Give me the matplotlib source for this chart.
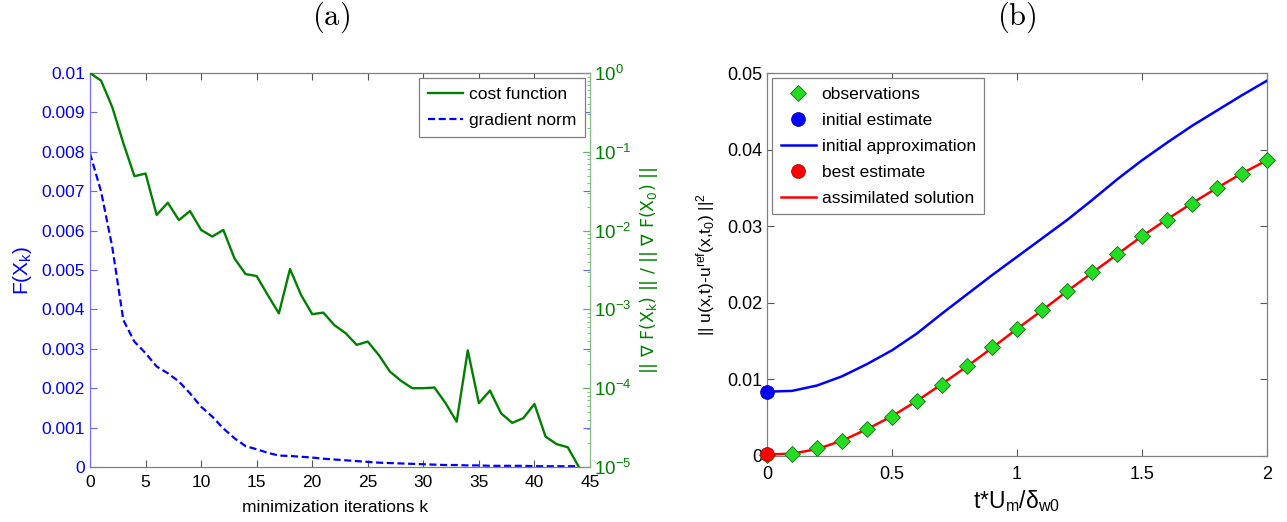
import matplotlib
matplotlib.use('Agg')
import matplotlib.pyplot as plt
from matplotlib.ticker import FixedLocator, FixedFormatter, LogLocator, NullFormatter
from matplotlib.lines import Line2D

plt.rcParams['font.family'] = ['Liberation Sans', 'DejaVu Sans']
plt.rcParams['mathtext.fontset'] = 'custom'
plt.rcParams['mathtext.rm'] = 'Liberation Sans'
plt.rcParams['mathtext.it'] = 'Liberation Sans:italic'
plt.rcParams['mathtext.default'] = 'rm'

# ---------------- data: panel (a) ----------------
iterations = list(range(45))
cost_function = [1.0, 0.80, 0.37, 0.129, 0.049, 0.053, 0.0158, 0.0226, 0.0136, 0.0177,
                 0.0102, 0.0084, 0.0102, 0.00445, 0.00281, 0.00265, 0.00152, 0.00089, 0.00326, 0.00152,
                 0.00087, 0.00091, 0.00063, 0.00050, 0.000355, 0.00039, 0.000263, 0.000162, 0.000124, 0.00010,
                 0.00010, 0.000102, 0.0000646, 0.0000376, 0.000302, 0.0000646, 0.0000933, 0.0000479, 0.0000363, 0.0000417,
                 0.0000631, 0.0000243, 0.0000195, 0.0000178, 0.00001]
gradient_norm = [0.00796, 0.00699, 0.00559, 0.00373, 0.00318, 0.00289, 0.00255, 0.00238, 0.00217, 0.00187,
                 0.00153, 0.00128, 0.00098, 0.00073, 0.00053, 0.00045, 0.00036, 0.00029, 0.00028, 0.00026,
                 0.00024, 0.00021, 0.00019, 0.00017, 0.00015, 0.00013, 0.00011, 0.00010, 0.00009, 0.00008,
                 0.00007, 0.00006, 0.00005, 0.00005, 0.00004, 0.00004, 0.00003, 0.00003, 0.00003, 0.00003,
                 0.00002, 0.00002, 0.00002, 0.00002, 0.00002]
a_xticks = [0, 5, 10, 15, 20, 25, 30, 35, 40, 45]
a_yticks = [0, 0.001, 0.002, 0.003, 0.004, 0.005, 0.006, 0.007, 0.008, 0.009, 0.01]
a_yticklabels = ['0', '0.001', '0.002', '0.003', '0.004', '0.005', '0.006', '0.007', '0.008', '0.009', '0.01']

# ---------------- data: panel (b) ----------------
t_grid = [0.0, 0.1, 0.2, 0.3, 0.4, 0.5, 0.6, 0.7, 0.8, 0.9, 1.0,
          1.1, 1.2, 1.3, 1.4, 1.5, 1.6, 1.7, 1.8, 1.9, 2.0]
initial_approximation = [0.0084, 0.0085, 0.0092, 0.0104, 0.0120, 0.0138, 0.0160, 0.0186, 0.0211, 0.0236, 0.0260,
                         0.0284, 0.0308, 0.0334, 0.0361, 0.0386, 0.0409, 0.0431, 0.0451, 0.0471, 0.0490]
observations = [0.0001, 0.0003, 0.0010, 0.0020, 0.0035, 0.0051, 0.0072, 0.0093, 0.0117, 0.0142, 0.0166,
                0.0190, 0.0215, 0.0240, 0.0264, 0.0287, 0.0308, 0.0329, 0.0350, 0.0368, 0.0386]
assimilated_solution = [0.0002, 0.0003, 0.0009, 0.0020, 0.0035, 0.0052, 0.0072, 0.0094, 0.0117, 0.0141, 0.0166,
                        0.0190, 0.0215, 0.0239, 0.0263, 0.0287, 0.0309, 0.0330, 0.0350, 0.0369, 0.0386]
initial_estimate = (0.0, 0.0084)
best_estimate = (0.0, 0.0002)
b_xticks = [0, 0.5, 1, 1.5, 2]
b_xticklabels = ['0', '0.5', '1', '1.5', '2']
b_yticks = [0, 0.01, 0.02, 0.03, 0.04, 0.05]
b_yticklabels = ['0', '0.01', '0.02', '0.03', '0.04', '0.05']

W, H = 1287, 522
fig = plt.figure(figsize=(W / 100, H / 100), dpi=100)

def px_axes(x0, y_top, x1, y_bot):
    return fig.add_axes([x0 / W, (H - y_bot) / H, (x1 - x0) / W, (y_bot - y_top) / H])

FS = 12.5
GRAY = '#808080'
BLUE = '#0000ff'
GREEN = '#008000'
LEG_KW = dict(fontsize=FS, fancybox=False, framealpha=1, edgecolor=GRAY, borderaxespad=0.3,
              handlelength=2.0, handletextpad=0.35, labelspacing=0.62, borderpad=0.5)

# ================= panel (a) =================
ax1 = px_axes(90, 73, 590, 467)
ax1.plot(iterations, gradient_norm, color=BLUE, lw=1.6, ls=(0, (3.2, 1.6)))
ax1.set_xlim(0, 45)
ax1.set_ylim(0, 0.01)
ax1.xaxis.set_major_locator(FixedLocator(a_xticks))
ax1.yaxis.set_major_locator(FixedLocator(a_yticks))
ax1.yaxis.set_major_formatter(FixedFormatter(a_yticklabels))
ax1.set_xlabel('minimization iterations k', fontsize=FS)
ax1.xaxis.set_label_coords(0.49, -0.085)
ax1.set_ylabel('F(X$_k$)', color=BLUE, fontsize=FS + 2.5)
ax1.yaxis.set_label_coords(-0.112, 0.5)

ax2 = ax1.twinx()
ax2.plot(iterations, cost_function, color=GREEN, lw=1.7)
ax2.set_yscale('log')
ax2.set_ylim(1e-5, 1e0)
ax2.yaxis.set_major_locator(LogLocator(base=10, numticks=10))
ax2.yaxis.set_minor_locator(LogLocator(base=10, subs=[2, 3, 4, 5, 6, 7, 8, 9], numticks=20))
ax2.yaxis.set_minor_formatter(NullFormatter())
ax2.set_ylabel('|| \u2207 F(X$_k$) || / || \u2207 F(X$_0$) ||', color=GREEN, fontsize=FS,
               family='DejaVu Sans', math_fontfamily='dejavusans')
ax2.yaxis.set_label_coords(1.095, 0.5)

ax1.tick_params(axis='x', which='both', direction='in', top=True, length=5, width=0.8,
                color='#555555', labelsize=FS, pad=6)
ax1.tick_params(axis='y', direction='in', left=True, right=True, length=5, width=0.8,
                color='#6666ff', labelcolor=BLUE, labelsize=FS)
ax2.tick_params(axis='y', which='major', direction='in', length=5, width=0.8,
                color='#66b366', labelcolor=GREEN, labelsize=FS + 1, pad=3)
ax2.tick_params(axis='y', which='minor', direction='in', length=2.5, width=0.6, color='#66b366')

for s in ['top', 'bottom']:
    ax1.spines[s].set_color(GRAY)
    ax1.spines[s].set_linewidth(0.9)
ax1.spines['left'].set_color('#7070ff')
ax1.spines['left'].set_linewidth(0.9)
ax1.spines['right'].set_visible(False)
for s in ['top', 'bottom', 'left']:
    ax2.spines[s].set_visible(False)
ax2.spines['right'].set_color('#80c080')
ax2.spines['right'].set_linewidth(0.9)

handles_a = [Line2D([], [], color=GREEN, lw=1.7),
             Line2D([], [], color=BLUE, lw=1.6, ls=(0, (3.2, 1.6)))]
leg_a = ax2.legend(handles_a, ['cost function', 'gradient norm'], loc='upper right', **LEG_KW)
leg_a.get_frame().set_linewidth(0.9)

fig.text(331 / W, 1 - 17 / H, r'$\mathrm{(a)}$', math_fontfamily='cm', fontsize=22,
         ha='center', va='center')

# ================= panel (b) =================
bx = px_axes(767, 73, 1267, 456)
bx.plot(t_grid, initial_approximation, color=BLUE, lw=1.8, zorder=3, label='initial approximation')
bx.plot(t_grid, assimilated_solution, color='#ff0000', lw=1.8, zorder=3, label='assimilated solution')
bx.plot(t_grid, observations, ls='none', marker='D', markersize=8.5, markerfacecolor='#22dd22',
        markeredgecolor='#1a6a1a', markeredgewidth=0.6, zorder=4, clip_on=False, label='observations')
bx.plot([initial_estimate[0]], [initial_estimate[1]], ls='none', marker='o', markersize=10,
        markerfacecolor=BLUE, markeredgecolor='#0000aa', markeredgewidth=0.5, zorder=5, clip_on=False,
        label='initial estimate')
bx.plot([best_estimate[0]], [best_estimate[1]], ls='none', marker='o', markersize=10,
        markerfacecolor='#ff0000', markeredgecolor='#aa0000', markeredgewidth=0.5, zorder=5, clip_on=False,
        label='best estimate')
bx.set_xlim(0, 2)
bx.set_ylim(0, 0.05)
bx.xaxis.set_major_locator(FixedLocator(b_xticks))
bx.xaxis.set_major_formatter(FixedFormatter(b_xticklabels))
bx.yaxis.set_major_locator(FixedLocator(b_yticks))
bx.yaxis.set_major_formatter(FixedFormatter(b_yticklabels))
bx.tick_params(axis='both', direction='in', top=True, right=True, length=5, width=0.8,
               color='#555555', labelsize=FS + 0.5)
bx.tick_params(axis='x', pad=7)
for s in bx.spines.values():
    s.set_color(GRAY)
    s.set_linewidth(0.9)
bx.set_xlabel('t*U$_m$/\u03b4$_{w0}$', fontsize=FS + 4)
bx.xaxis.set_label_coords(0.5, -0.085)
bx.set_ylabel('|| u(x,t)-u$^{ref}$(x,t$_0$) ||$^2$', fontsize=FS)
bx.yaxis.set_label_coords(-0.1, 0.5)

h, l = bx.get_legend_handles_labels()
order = ['observations', 'initial estimate', 'initial approximation', 'best estimate', 'assimilated solution']
hmap = dict(zip(l, h))
leg_b = bx.legend([hmap[k] for k in order], order, loc='upper left', **LEG_KW)
leg_b.get_frame().set_linewidth(0.9)

fig.text(1017 / W, 1 - 17 / H, r'$\mathrm{(b)}$', math_fontfamily='cm', fontsize=22,
         ha='center', va='center')

fig.savefig('out.png', dpi=100)
